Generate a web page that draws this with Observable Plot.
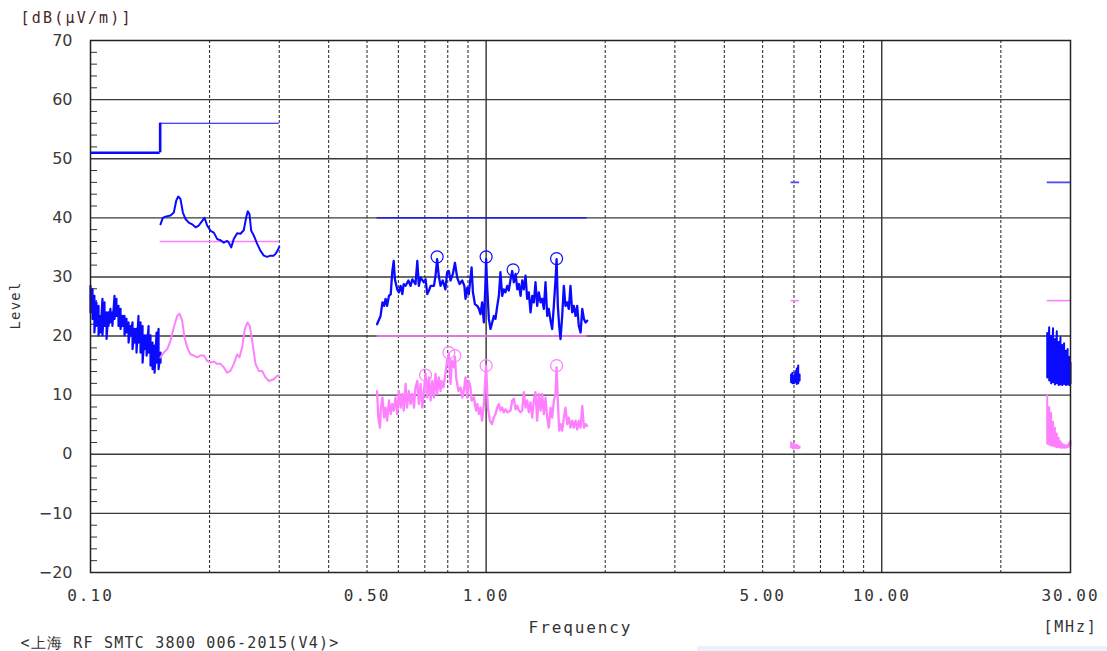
<!DOCTYPE html>
<html><head><meta charset="utf-8">
<script src="https://cdn.jsdelivr.net/npm/d3@7"></script>
<script src="https://cdn.jsdelivr.net/npm/@observablehq/plot@0.6"></script>
<style>
html,body{margin:0;padding:0;background:#fff;overflow:hidden;}
#chart{position:relative;width:1107px;height:651px;}
#strip{position:absolute;left:697px;top:646px;width:410px;height:5px;background:#e9f2fb;}
svg text{font-family:"DejaVu Sans Mono",monospace;}
g[aria-label="x-axis tick label"] text{font-size:16px;letter-spacing:2px;fill:#333;}
g[aria-label="y-axis tick label"] text{font-family:"DejaVu Sans",sans-serif;font-size:16px;fill:#3a3a3a;}
</style></head><body><div id="chart"></div><div id="strip"></div>
<script>
// ---------- axes ----------
const xTicks = [0.1, 0.5, 1, 5, 10, 30];
const yTicks = [-20, -10, 0, 10, 20, 30, 40, 50, 60, 70];
const gridY = [-10, 0, 10, 20, 30, 40, 50, 60];
const decadeX = [1, 10];
const minorX = [0.2, 0.3, 0.4, 0.5, 0.6, 0.7, 0.8, 0.9, 2, 3, 4, 5, 6, 7, 8, 9, 20];
const minorY = [-18,-16,-14,-12,-8,-6,-4,-2,2,4,6,8,12,14,16,18,22,24,26,28,32,34,36,38,42,44,46,48,52,54,56,58,62,64,66,68];

// ---------- limits ----------
const blueLimitStart = [0.1, 0.15, 0.53, 5.9, 26.2];
const blueLimitEnd   = [0.15, 0.3, 1.8, 6.2, 30];
const blueLimitLevel = [51, 56, 40, 46, 46];
const pinkLimitStart = [0.15, 0.53, 5.9, 26.2];
const pinkLimitEnd   = [0.3, 1.8, 6.2, 30];
const pinkLimitLevel = [36, 20, 26, 26];

// ---------- 0.10-0.15 MHz blue (peak, dense) ----------
const lfFreq = [0.1000,0.1012,0.1023,0.1035,0.1048,0.1060,0.1072,0.1085,0.1098,0.1110,0.1123,0.1136,0.1150,0.1163,0.1177,0.1191,0.1205,0.1219,0.1233,0.1248,0.1262,0.1277,0.1292,0.1307,0.1322,0.1338,0.1354,0.1370,0.1386,0.1402,0.1418,0.1435,0.1452,0.1469,0.1486,0.1503];
const lfHi = [28.5,27.9,26.8,25.7,25.1,23.4,26.3,25.7,24.0,24.0,24.6,24.0,26.8,26.3,25.1,24.6,23.4,23.4,22.9,22.3,21.7,22.3,21.2,21.2,23.4,22.3,21.7,20.1,20.1,21.7,20.1,18.9,18.4,20.6,21.2,17.2];
const lfLo = [24.0,22.9,20.6,21.7,20.1,20.6,20.1,21.7,19.5,21.7,22.3,21.7,22.9,23.4,21.7,21.2,21.7,20.1,20.6,18.9,20.1,17.8,18.9,17.2,18.9,17.2,15.5,17.8,16.7,17.2,15.0,14.4,13.8,15.5,14.4,15.5];

// ---------- 0.15-0.30 MHz ----------
const qp1Freq = [0.1503,0.1523,0.1547,0.1593,0.1624,0.1647,0.1666,0.1688,0.1712,0.1739,0.1772,0.1807,0.1843,0.1878,0.1916,0.1942,0.1972,0.2011,0.2050,0.2091,0.2131,0.2173,0.2215,0.2236,0.2268,0.2302,0.2348,0.2394,0.2440,0.2475,0.2498,0.2523,0.2548,0.2587,0.2639,0.2690,0.2742,0.2797,0.2851,0.2906,0.2935,0.2982,0.3000];
const qp1Level = [38.9,40.0,40.2,40.4,40.9,42.9,43.6,43.2,40.9,39.8,39.2,38.9,38.4,38.7,39.5,40.0,38.7,37.8,37.5,36.4,36.2,35.8,36.1,35.8,35.0,36.4,37.4,37.3,37.9,40.1,41.1,40.6,37.8,37.0,35.6,34.4,33.6,33.4,33.6,33.6,33.9,34.7,35.1];
const av1Freq = [0.1503,0.1532,0.1563,0.1593,0.1624,0.1656,0.1679,0.1705,0.1728,0.1756,0.1789,0.1824,0.1861,0.1897,0.1934,0.1972,0.2011,0.2050,0.2091,0.2131,0.2173,0.2215,0.2259,0.2302,0.2348,0.2381,0.2418,0.2455,0.2494,0.2527,0.2562,0.2613,0.2663,0.2716,0.2770,0.2823,0.2906,0.2965,0.3000];
const av1Level = [16.4,17.2,17.8,19.2,21.5,23.4,23.8,22.6,19.8,18.1,16.9,16.7,16.4,16.7,16.7,15.8,15.5,15.7,15.3,15.3,14.7,13.8,14.1,15.3,16.9,16.4,18.1,21.2,22.3,21.7,19.2,15.3,14.1,14.1,13.0,12.4,12.7,13.3,13.3];

// ---------- 0.53-1.8 MHz ----------
const qp2Freq = [0.530,0.541,0.547,0.552,0.557,0.562,0.568,0.574,0.579,0.584,0.588,0.596,0.602,0.608,0.614,0.619,0.626,0.636,0.644,0.651,0.663,0.670,0.676,0.683,0.696,0.703,0.710,0.717,0.724,0.738,0.745,0.752,0.759,0.767,0.777,0.789,0.797,0.805,0.813,0.824,0.834,0.845,0.857,0.870,0.881,0.887,0.896,0.904,0.919,0.926,0.937,0.950,0.959,0.968,0.977,0.987,0.995,1.000,1.006,1.016,1.026,1.036,1.046,1.056,1.067,1.077,1.087,1.098,1.108,1.119,1.131,1.141,1.153,1.164,1.175,1.187,1.199,1.210,1.222,1.234,1.245,1.258,1.270,1.282,1.295,1.308,1.320,1.333,1.346,1.359,1.373,1.386,1.399,1.413,1.427,1.440,1.455,1.469,1.483,1.498,1.507,1.518,1.530,1.542,1.557,1.572,1.587,1.603,1.618,1.634,1.650,1.666,1.683,1.699,1.715,1.733,1.750,1.767,1.784,1.801];
const qp2Level = [22.0,23.4,25.7,25.1,26.3,25.1,26.8,27.1,30.8,32.7,29.6,27.9,27.4,28.5,27.1,28.8,28.5,29.4,28.5,29.6,28.8,32.7,28.5,29.9,29.1,29.6,27.1,27.7,28.5,28.5,30.2,33.0,30.2,28.5,29.4,27.9,30.8,31.0,29.4,30.5,32.4,29.9,28.8,29.4,28.5,26.3,28.2,27.1,31.6,27.4,25.4,25.1,24.6,23.7,25.7,22.3,28.0,33.0,28.5,22.9,21.2,22.3,23.4,22.9,25.1,26.8,30.8,26.8,27.9,27.4,28.5,27.7,29.6,31.0,29.1,30.5,27.9,28.8,26.8,29.4,27.9,30.2,26.3,27.4,24.0,26.8,25.7,29.1,25.1,27.4,25.7,26.3,24.6,29.1,23.4,24.6,22.6,21.2,25.1,29.6,33.0,25.1,21.7,19.5,23.4,28.5,25.1,25.7,24.6,28.5,24.0,25.1,23.4,25.1,21.7,20.6,24.6,22.9,22.3,22.6];
const av2Freq = [0.530,0.534,0.539,0.542,0.547,0.552,0.557,0.562,0.568,0.574,0.579,0.584,0.590,0.596,0.602,0.608,0.614,0.619,0.626,0.631,0.638,0.644,0.651,0.657,0.663,0.670,0.676,0.683,0.690,0.696,0.703,0.710,0.717,0.724,0.731,0.738,0.745,0.752,0.759,0.767,0.772,0.780,0.789,0.797,0.805,0.813,0.819,0.829,0.834,0.840,0.845,0.851,0.862,0.870,0.876,0.887,0.896,0.904,0.913,0.919,0.931,0.943,0.950,0.959,0.968,0.977,0.987,1.000,1.010,1.022,1.034,1.046,1.056,1.067,1.077,1.087,1.098,1.108,1.119,1.131,1.153,1.164,1.175,1.187,1.199,1.210,1.222,1.234,1.245,1.258,1.270,1.282,1.295,1.308,1.320,1.333,1.346,1.359,1.373,1.386,1.399,1.413,1.427,1.440,1.455,1.469,1.483,1.498,1.507,1.518,1.530,1.542,1.557,1.572,1.587,1.603,1.618,1.634,1.650,1.666,1.683,1.699,1.715,1.733,1.750,1.767,1.784,1.801];
const av2Level = [10.7,6.2,4.5,7.9,9.6,6.2,7.9,5.7,9.1,6.8,8.5,7.4,9.6,6.8,10.7,7.9,10.2,7.4,11.9,7.9,10.7,8.5,10.2,7.9,11.3,12.4,8.5,11.9,7.9,10.7,13.6,9.6,13.0,9.1,12.4,9.6,13.6,10.2,13.0,10.7,12.4,11.3,13.6,15.8,17.0,11.9,15.8,14.7,16.5,13.0,11.9,10.7,11.3,9.6,10.2,13.0,9.6,12.4,11.3,9.1,9.6,7.4,8.5,6.8,7.9,5.7,8.5,15.0,7.9,5.7,5.1,6.2,6.8,7.9,8.5,7.4,7.9,7.1,7.6,7.1,7.4,9.1,9.4,7.6,8.2,7.4,7.1,7.4,10.5,7.9,9.1,7.1,8.8,6.2,9.1,10.5,5.7,10.2,7.4,10.2,6.8,9.6,6.2,4.5,7.9,6.2,9.1,10.2,14.7,9.1,4.0,5.1,4.0,6.2,7.9,5.1,6.2,4.5,5.7,4.5,5.7,4.2,5.7,4.5,8.2,4.5,5.1,4.8];

// ---------- 5.9-6.2 MHz ----------
const b3Freq = [5.90,5.95,6.00,6.05,6.10,6.15,6.20];
const b3BlueHi = [13.5,13.8,13.2,14.0,14.5,15.0,13.5];
const b3BlueLo = [12.2,12.0,12.0,12.2,11.9,12.0,12.5];
const b3PinkHi = [2.0,1.8,1.7,1.6,1.6,1.4,1.3];
const b3PinkLo = [1.2,1.0,1.0,1.1,1.0,1.0,1.1];

// ---------- 26-30 MHz ----------
const b4Freq = [26.2,26.5,26.8,27.1,27.4,27.7,28.0,28.3,28.6,28.9,29.2,29.5,29.8,30.0];
const b4BlueHi = [20.5,21.5,20.0,21.3,19.5,20.8,19.0,19.8,18.5,18.8,17.5,17.8,16.5,15.5];
const b4BlueLo = [13.0,12.5,12.0,12.2,11.8,12.0,11.7,11.8,11.7,11.9,11.7,11.8,11.7,12.0];
const b4PinkHi = [10.0,8.0,7.0,5.5,4.5,3.5,2.8,2.2,1.8,1.6,1.5,1.6,2.0,2.3];
const b4PinkLo = [1.8,1.6,1.5,1.4,1.3,1.2,1.2,1.1,1.1,1.1,1.1,1.2,1.3,1.5];

// ---------- markers ----------
const blueMarkFreq = [0.752, 1.0, 1.17, 1.507];
const blueMarkLevel = [33.4, 33.4, 31.2, 33.1];
const pinkMarkFreq = [0.703, 0.805, 0.834, 1.0, 1.507];
const pinkMarkLevel = [13.4, 17.2, 16.7, 15.0, 15.0];

// ---------- texts ----------
const unitText = "[dB(\u00b5V/m)]";
const yTitle = "Level";
const xTitle = "Frequency";
const xUnit = "[MHz]";
const captionText = "<\u4e0a\u6d77 RF SMTC 3800 006-2015(V4)>";

// ---------- build ----------
const BLUE = "#0a0aff", PINK = "#ff80ff", LBLUE = "#4a4aff";
const pairs = (fr, lv) => fr.map((f, i) => ({f, v: lv[i]}));
const zig = (fr, hi, lo) => fr.flatMap((f, i) => [{f, v: hi[i]}, {f, v: lo[i]}]);
const segs = (s, e, l) => s.map((a, i) => ({a, b: e[i], v: l[i]}));

const blueSegs = segs(blueLimitStart, blueLimitEnd, blueLimitLevel);
const pinkSegs = segs(pinkLimitStart, pinkLimitEnd, pinkLimitLevel);

const lineOpts = (c, w) => ({x: "f", y: "v", stroke: c, strokeWidth: w, strokeLinejoin: "round"});

const chart = Plot.plot({
  width: 1107, height: 651,
  marginLeft: 90, marginRight: 37, marginTop: 40, marginBottom: 79,
  x: {type: "log", domain: [0.1, 30]},
  y: {domain: [-20, 70]},
  style: {background: "#fff", overflow: "visible"},
  marks: [
    Plot.ruleY(gridY, {stroke: "#3a3a3a", strokeWidth: 1.4}),
    Plot.ruleX(minorX, {stroke: "#222", strokeWidth: 1, strokeDasharray: "3,2"}),
    Plot.ruleX(decadeX, {stroke: "#333", strokeWidth: 1.4}),
    Plot.axisY(minorY, {tickSize: 7, dx: 7, tickFormat: () => "", stroke: "#333", label: null}),
    Plot.axisY(yTicks, {tickSize: 0, tickPadding: 18, tickFormat: d => (d < 0 ? "\u2212" + Math.abs(d) : String(d)), label: null}),
    Plot.axisX(xTicks, {tickSize: 0, tickPadding: 17, tickFormat: d3.format(".2f"), label: null}),

    // limit lines
    Plot.ruleY(blueSegs.slice(0, 1), {y: "v", x1: "a", x2: "b", stroke: BLUE, strokeWidth: 2.6}),
    Plot.ruleX(blueSegs.slice(0, 1), {x: "b", y1: "v", y2: () => blueLimitLevel[1], stroke: BLUE, strokeWidth: 2.6}),
    Plot.ruleY(blueSegs.slice(1, 3), {y: "v", x1: "a", x2: "b", stroke: BLUE, strokeWidth: 1.2}),
    Plot.ruleY(blueSegs.slice(3), {y: "v", x1: "a", x2: "b", stroke: LBLUE, strokeWidth: 1.8}),
    Plot.ruleY(pinkSegs, {y: "v", x1: "a", x2: "b", stroke: PINK, strokeWidth: 1.6}),

    // traces
    Plot.line(zig(lfFreq, lfHi, lfLo), lineOpts(BLUE, 2.2)),
    Plot.line(pairs(qp1Freq, qp1Level), lineOpts(BLUE, 2)),
    Plot.line(pairs(av1Freq, av1Level), lineOpts(PINK, 2)),
    Plot.line(pairs(qp2Freq, qp2Level), lineOpts(BLUE, 2.3)),
    Plot.line(pairs(av2Freq, av2Level), lineOpts(PINK, 2.3)),
    Plot.line(zig(b3Freq, b3BlueHi, b3BlueLo), lineOpts(BLUE, 2)),
    Plot.line(zig(b3Freq, b3PinkHi, b3PinkLo), lineOpts(PINK, 2)),
    Plot.line(zig(b4Freq, b4BlueHi, b4BlueLo), lineOpts(BLUE, 2)),
    Plot.line(zig(b4Freq, b4PinkHi, b4PinkLo), lineOpts(PINK, 2)),

    // markers
    Plot.dot(pairs(blueMarkFreq, blueMarkLevel), {x: "f", y: "v", r: 6, stroke: BLUE, fill: "none", strokeWidth: 1.2}),
    Plot.dot(pairs(pinkMarkFreq, pinkMarkLevel), {x: "f", y: "v", r: 6, stroke: PINK, fill: "none", strokeWidth: 1.2}),

    Plot.frame({stroke: "#222", strokeWidth: 1.5}),

    // texts
    Plot.text([unitText], {frameAnchor: "top-left", dx: -70, dy: -22, textAnchor: "start", lineAnchor: "middle", fontSize: 15, fill: "#4a2424"}),
    Plot.text([yTitle], {frameAnchor: "left", dx: -75, dy: -1, rotate: -90, textAnchor: "middle", lineAnchor: "middle", fontSize: 14, fill: "#333"}),
    Plot.text([xTitle], {frameAnchor: "bottom", dy: 55, textAnchor: "middle", lineAnchor: "middle", fontSize: 16, fill: "#333"}),
    Plot.text([xUnit], {frameAnchor: "bottom-right", dy: 55, textAnchor: "middle", lineAnchor: "middle", fontSize: 15, fill: "#333"}),
    Plot.text([captionText], {frameAnchor: "bottom-left", dx: -70, dy: 71, textAnchor: "start", lineAnchor: "middle", fontSize: 15, fill: "#333"})
  ]
});
// letter spacing for the monospace labels
const spacing = new Map([[unitText, 2.2], [yTitle, 1.2], [xTitle, 1.9], [xUnit, 1.8], [captionText, 1.2]]);
d3.select(chart).selectAll("text").each(function() {
  const s = spacing.get(this.textContent);
  if (s != null) this.setAttribute("letter-spacing", s);
});
document.getElementById("chart").appendChild(chart);
</script></body></html>
